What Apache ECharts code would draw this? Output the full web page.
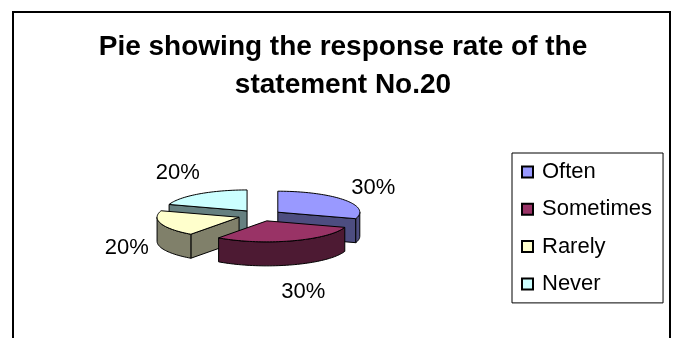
<!DOCTYPE html>
<html>
<head>
<meta charset="utf-8">
<style>
  html, body { margin: 0; padding: 0; background: #fff; }
  #chart { width: 676px; height: 338px; }
</style>
<script src="https://cdn.jsdelivr.net/npm/echarts@6/dist/echarts.min.js"></script>
</head>
<body>
<div id="chart"></div>
<script>
// Response categories and their shares (percent)
const categories = ['Often', 'Sometimes', 'Rarely', 'Never'];
const values = [30, 30, 20, 20];
const topColors = ['#9999FF', '#993366', '#FFFFCC', '#CCFFFF'];
const sideColors = ['#4D4D80', '#4D1A33', '#80806A', '#668080'];

// 3D pie layout
const pie = { cx: 260, cy: 215.5, rx: 82, ry: 21, depth: 24, explode: 22 };
const labelRadius = { x: 118, y: 62 };
const FONT = 'Liberation Sans, Arial, Helvetica, sans-serif';

const total = values.reduce((a, b) => a + b, 0);
const rad = d => d * Math.PI / 180;

function sliceAngles(i) {
  let start = 0;
  for (let k = 0; k < i; k++) start += values[k] / total * 360;
  const end = start + values[i] / total * 360;
  return { start, end, mid: (start + end) / 2 };
}

function sliceCenter(mid) {
  return [
    pie.cx + pie.explode * Math.sin(rad(mid)),
    pie.cy - pie.explode * (pie.ry / pie.rx) * Math.cos(rad(mid))
  ];
}

function rim(c, deg) {
  return [c[0] + pie.rx * Math.sin(rad(deg)), c[1] - pie.ry * Math.cos(rad(deg))];
}

function down(p) { return [p[0], p[1] + pie.depth]; }

function arcPoints(c, a0, a1) {
  const pts = [];
  const n = Math.max(2, Math.ceil((a1 - a0) / 2));
  for (let k = 0; k <= n; k++) pts.push(rim(c, a0 + (a1 - a0) * k / n));
  return pts;
}

function renderSlice(i) {
  return function () {
    const { start, end, mid } = sliceAngles(i);
    const c = sliceCenter(mid);
    const stroke = { stroke: '#000', lineWidth: 1 };
    const side = Object.assign({ fill: sideColors[i], lineJoin: 'round' }, stroke);
    const children = [];

    // radial cut faces that face the viewer
    if (Math.sin(rad(start)) < -1e-6) {
      const p = rim(c, start);
      children.push({ type: 'polygon', shape: { points: [c, p, down(p), down(c)] }, style: side });
    }
    if (Math.sin(rad(end)) > 1e-6) {
      const p = rim(c, end);
      children.push({ type: 'polygon', shape: { points: [c, p, down(p), down(c)] }, style: side });
    }
    // outer wall, front half only
    const a0 = Math.max(start, 90), a1 = Math.min(end, 270);
    if (a1 > a0) {
      const topArc = arcPoints(c, a0, a1);
      const botArc = topArc.map(down).reverse();
      children.push({ type: 'polygon', shape: { points: topArc.concat(botArc) }, style: side });
    }
    // top face
    children.push({
      type: 'polygon',
      shape: { points: [c].concat(arcPoints(c, start, end)) },
      style: Object.assign({ fill: topColors[i], lineJoin: 'round' }, stroke)
    });
    // percentage label
    const lx = c[0] + labelRadius.x * Math.sin(rad(mid));
    const ly = c[1] + pie.depth / 2 - labelRadius.y * Math.cos(rad(mid));
    children.push({
      type: 'text',
      style: {
        x: lx, y: ly,
        text: Math.round(values[i] / total * 100) + '%',
        fill: '#000', font: '22px ' + FONT,
        align: 'center', verticalAlign: 'middle'
      },
      z2: 10
    });
    return { type: 'group', children };
  };
}

// paint back-to-front by slice depth
const depthRank = categories
  .map((_, i) => ({ i, y: sliceCenter(sliceAngles(i).mid)[1] }))
  .sort((a, b) => a.y - b.y)
  .map(o => o.i);

const series = categories.map((name, i) => ({
  type: 'custom',
  name,
  coordinateSystem: 'none',
  data: [values[i]],
  z: 2 + depthRank.indexOf(i),
  itemStyle: { color: topColors[i], borderColor: '#000', borderWidth: 1 },
  renderItem: renderSlice(i),
  silent: true
}));

const chart = echarts.init(document.getElementById('chart'), null, { renderer: 'canvas' });
chart.setOption({
  backgroundColor: '#fff',
  animation: false,
  title: {
    text: 'Pie showing the response rate of the\nstatement No.20',
    left: 343,
    top: 28,
    padding: 0,
    textAlign: 'center',
    textStyle: { fontFamily: FONT, fontWeight: 'bold', fontSize: 28, lineHeight: 38, color: '#000' }
  },
  legend: {
    orient: 'vertical',
    left: 512,
    top: 153,
    data: categories,
    icon: 'rect',
    itemWidth: 11,
    itemHeight: 11,
    itemGap: 15.3,
    padding: [8, 11, 8, 9],
    borderColor: '#000',
    borderWidth: 1,
    selectedMode: false,
    textStyle: { fontFamily: FONT, fontSize: 22, lineHeight: 22, color: '#000', padding: [0, 0, 0, 4] }
  },
  graphic: [{
    type: 'rect',
    shape: { x: 13, y: 12, width: 657, height: 340 },
    style: { fill: 'none', stroke: '#000', lineWidth: 2 },
    silent: true,
    z: 0
  }],
  series
});
</script>
</body>
</html>
